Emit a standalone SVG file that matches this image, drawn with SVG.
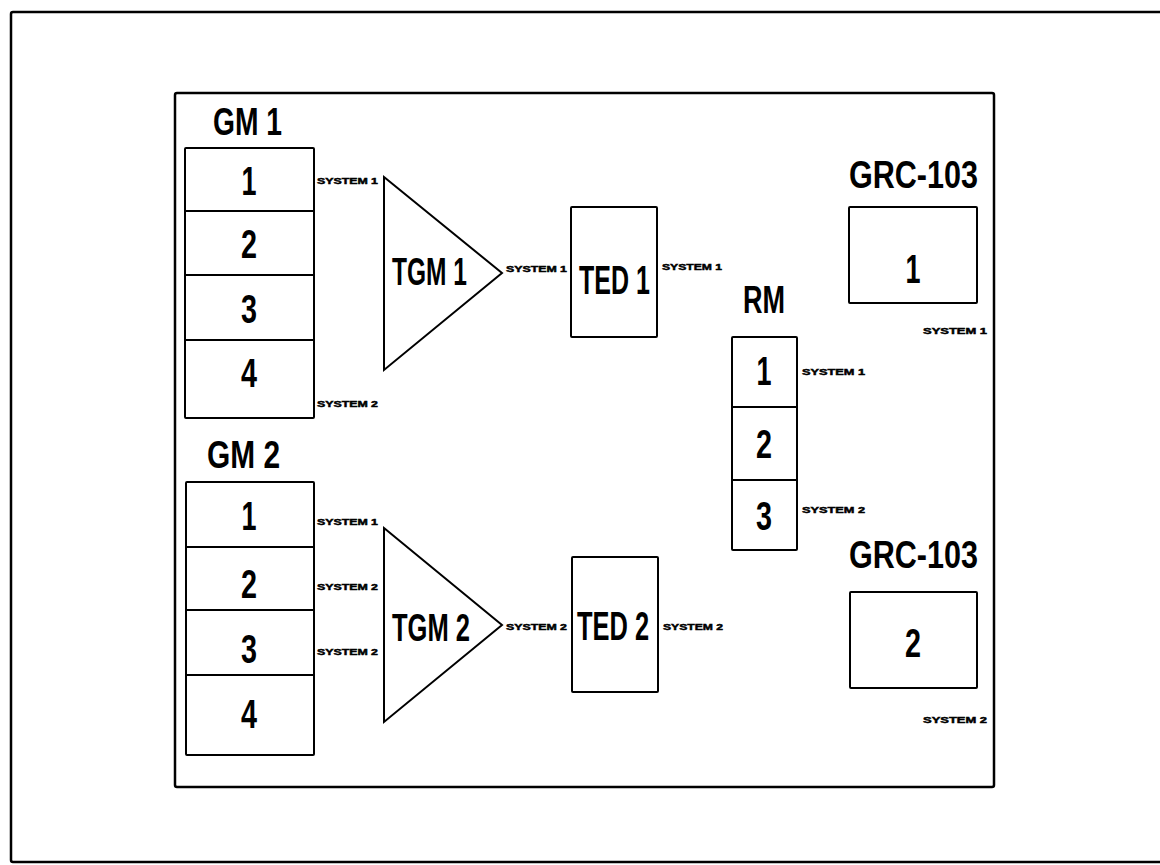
<svg xmlns="http://www.w3.org/2000/svg" width="1160" height="865" viewBox="0 0 1160 865">
<style>
.frame{fill:none;stroke:#000;stroke-width:2.5}
.box{fill:#fff;stroke:#000;stroke-width:2}
.t{font-family:"Liberation Sans Narrow","Liberation Sans",Arial,sans-serif;font-weight:bold;fill:#000}
.big{font-size:38px}
.dig{font-size:41px;text-anchor:middle}
.sm{font-family:"Liberation Sans","DejaVu Sans",sans-serif;font-weight:900;font-size:9.5px;fill:#000;stroke:#000;stroke-width:0.5}
</style>
<rect width="1160" height="865" fill="#fff"/>
<g id="frames">
<rect class="frame" x="11" y="12" width="1160" height="850" rx="2" stroke-width="3"/>
<rect class="frame" x="175" y="93" width="819" height="694" rx="2"/>
</g>
<g id="connectors"/>
<g id="gm1">
<text class="t big" x="213" y="135" font-size="34" textLength="69" lengthAdjust="spacingAndGlyphs">GM 1</text>
<rect class="box" x="185" y="148" width="129" height="270" rx="1"/>
<line x1="185" y1="211" x2="314" y2="211" stroke="#000" stroke-width="2"/>
<line x1="185" y1="275" x2="314" y2="275" stroke="#000" stroke-width="2"/>
<line x1="185" y1="340" x2="314" y2="340" stroke="#000" stroke-width="2"/>
<text class="t dig" x="249" y="195" textLength="15" lengthAdjust="spacingAndGlyphs">1</text>
<text class="t dig" x="249" y="258" textLength="16" lengthAdjust="spacingAndGlyphs">2</text>
<text class="t dig" x="249" y="323" textLength="16" lengthAdjust="spacingAndGlyphs">3</text>
<text class="t dig" x="249" y="387" textLength="16" lengthAdjust="spacingAndGlyphs">4</text>
<text class="sm" x="317" y="184" textLength="61" lengthAdjust="spacingAndGlyphs">SYSTEM 1</text>
<text class="sm" x="317" y="407" textLength="61" lengthAdjust="spacingAndGlyphs">SYSTEM 2</text>
</g>
<g id="gm2">
<text class="t big" x="207" y="468" font-size="34" textLength="73" lengthAdjust="spacingAndGlyphs">GM 2</text>
<rect class="box" x="186" y="482" width="128" height="273" rx="1"/>
<line x1="186" y1="547" x2="314" y2="547" stroke="#000" stroke-width="2"/>
<line x1="186" y1="610" x2="314" y2="610" stroke="#000" stroke-width="2"/>
<line x1="186" y1="675" x2="314" y2="675" stroke="#000" stroke-width="2"/>
<text class="t dig" x="249" y="530" textLength="15" lengthAdjust="spacingAndGlyphs">1</text>
<text class="t dig" x="249" y="598" textLength="16" lengthAdjust="spacingAndGlyphs">2</text>
<text class="t dig" x="249" y="663" textLength="16" lengthAdjust="spacingAndGlyphs">3</text>
<text class="t dig" x="249" y="728" textLength="16" lengthAdjust="spacingAndGlyphs">4</text>
<text class="sm" x="317" y="525" textLength="61" lengthAdjust="spacingAndGlyphs">SYSTEM 1</text>
<text class="sm" x="317" y="590" textLength="61" lengthAdjust="spacingAndGlyphs">SYSTEM 2</text>
<text class="sm" x="317" y="655" textLength="61" lengthAdjust="spacingAndGlyphs">SYSTEM 2</text>
</g>
<g id="tgm1">
<polygon class="box" points="384,177 502,273 384,370"/>
<text class="t big" x="392" y="285" textLength="75" lengthAdjust="spacingAndGlyphs">TGM 1</text>
<text class="sm" x="506" y="272" textLength="61" lengthAdjust="spacingAndGlyphs">SYSTEM 1</text>
</g>
<g id="ted1">
<rect class="box" x="571" y="207" width="86" height="130" rx="1"/>
<text class="t" font-size="41" transform="translate(579,294) scale(0.61,1)">TED 1</text>
<text class="sm" x="662" y="270" textLength="60" lengthAdjust="spacingAndGlyphs">SYSTEM 1</text>
</g>
<g id="tgm2">
<polygon class="box" points="384,528 502,625 384,722"/>
<text class="t big" x="392" y="641" textLength="78" lengthAdjust="spacingAndGlyphs">TGM 2</text>
<text class="sm" x="506" y="630" textLength="61" lengthAdjust="spacingAndGlyphs">SYSTEM 2</text>
</g>
<g id="ted2">
<rect class="box" x="572" y="557" width="86" height="135" rx="1"/>
<text class="t" font-size="41" transform="translate(577,640) scale(0.62,1)">TED 2</text>
<text class="sm" x="663" y="630" textLength="60" lengthAdjust="spacingAndGlyphs">SYSTEM 2</text>
</g>
<g id="rm">
<text class="t big" x="743" y="313" textLength="42" lengthAdjust="spacingAndGlyphs">RM</text>
<rect class="box" x="732" y="337" width="65" height="213" rx="1"/>
<line x1="732" y1="407" x2="797" y2="407" stroke="#000" stroke-width="2"/>
<line x1="732" y1="480" x2="797" y2="480" stroke="#000" stroke-width="2"/>
<text class="t dig" x="764" y="385" textLength="15" lengthAdjust="spacingAndGlyphs">1</text>
<text class="t dig" x="764" y="458" textLength="16" lengthAdjust="spacingAndGlyphs">2</text>
<text class="t dig" x="764" y="530" textLength="16" lengthAdjust="spacingAndGlyphs">3</text>
<text class="sm" x="802" y="375" textLength="63" lengthAdjust="spacingAndGlyphs">SYSTEM 1</text>
<text class="sm" x="802" y="513" textLength="63" lengthAdjust="spacingAndGlyphs">SYSTEM 2</text>
</g>
<g id="grc1">
<text class="t" font-size="39" x="849" y="188" textLength="129" lengthAdjust="spacingAndGlyphs">GRC-103</text>
<rect class="box" x="849" y="207" width="128" height="96" rx="1"/>
<text class="t dig" x="913" y="283" textLength="15" lengthAdjust="spacingAndGlyphs">1</text>
<text class="sm" x="923" y="334" textLength="64" lengthAdjust="spacingAndGlyphs">SYSTEM 1</text>
</g>
<g id="grc2">
<text class="t" font-size="39" x="849" y="568" textLength="129" lengthAdjust="spacingAndGlyphs">GRC-103</text>
<rect class="box" x="850" y="592" width="127" height="96" rx="1"/>
<text class="t dig" x="913" y="657" textLength="16" lengthAdjust="spacingAndGlyphs">2</text>
<text class="sm" x="923" y="723" textLength="64" lengthAdjust="spacingAndGlyphs">SYSTEM 2</text>
</g>
</svg>
